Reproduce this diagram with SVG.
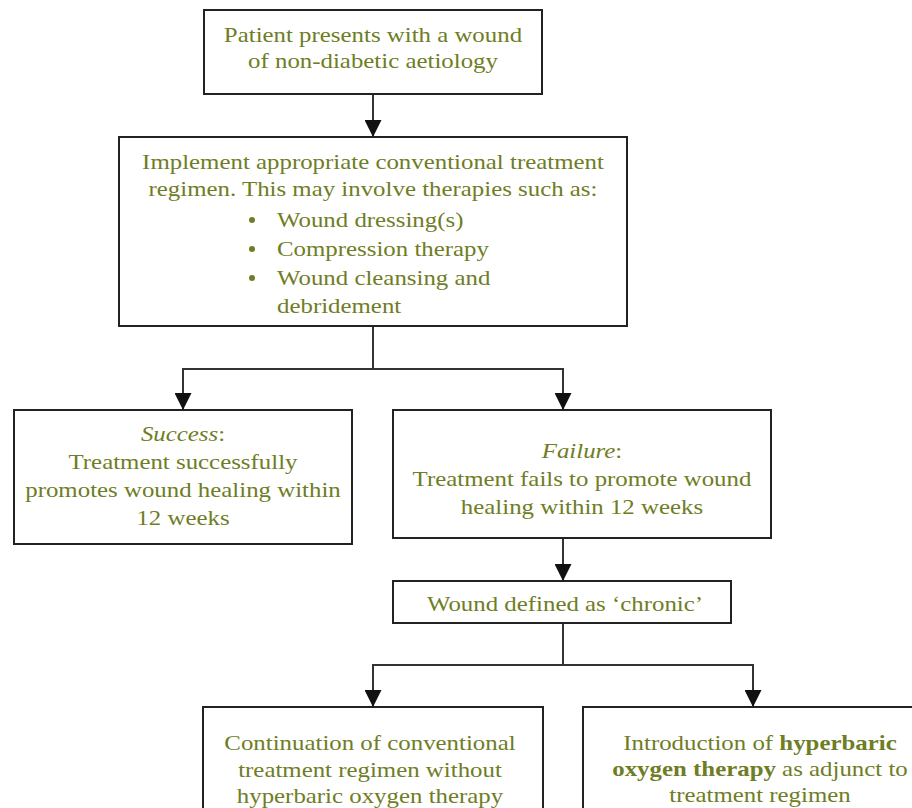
<svg xmlns="http://www.w3.org/2000/svg" width="912" height="808" viewBox="0 0 912 808">
<defs>
<style>
.box{fill:#ffffff;stroke:#222222;stroke-width:2}
.t{font-family:"Liberation Serif","Times New Roman",serif;font-size:22px;fill:#6f7d25}
.c{text-anchor:middle}
.i{font-style:italic}
.b{font-weight:bold}
.ln{fill:none;stroke:#333333;stroke-width:2}
.dot{fill:#6f7d25}
</style>
<marker id="ah" viewBox="0 0 10 10" refX="10" refY="5" markerWidth="17" markerHeight="17" markerUnits="userSpaceOnUse" orient="auto">
<path d="M0,0 L10,5 L0,10 Z" fill="#111111"/>
</marker>
</defs>
<rect width="912" height="808" fill="#ffffff"/>

<g id="connectors">
<line class="ln" x1="373" y1="94" x2="373" y2="137" marker-end="url(#ah)"/>
<polyline class="ln" points="373,326 373,369"/>
<polyline class="ln" points="183,410 183,369 563,369 563,410" marker-end="url(#ah)"/>
<line class="ln" x1="183" y1="369" x2="183" y2="410" marker-end="url(#ah)"/>
<line class="ln" x1="563" y1="538" x2="563" y2="581" marker-end="url(#ah)"/>
<polyline class="ln" points="563,623 563,665"/>
<polyline class="ln" points="373,707 373,665 753,665 753,707" marker-end="url(#ah)"/>
<line class="ln" x1="373" y1="665" x2="373" y2="707" marker-end="url(#ah)"/>
</g>

<g id="start">
<rect class="box" x="204" y="10" width="338" height="84"/>
<text class="t c" transform="matrix(1.13,0,0,1,-48.49,0)"><tspan x="373" y="42">Patient presents with a wound</tspan><tspan x="373" y="68">of non-diabetic aetiology</tspan></text>
</g>

<g id="treatment">
<rect class="box" x="119" y="137" width="508" height="189"/>
<text class="t c" transform="matrix(1.13,0,0,1,-48.49,0)"><tspan x="373" y="169">Implement appropriate conventional treatment</tspan><tspan x="373" y="196">regimen. This may involve therapies such as:</tspan></text>
<circle class="dot" cx="252" cy="220" r="3"/>
<circle class="dot" cx="252" cy="249" r="3"/>
<circle class="dot" cx="252" cy="278" r="3"/>
<text class="t" transform="matrix(1.13,0,0,1,-36.01,0)"><tspan x="277" y="227">Wound dressing(s)</tspan><tspan x="277" y="256">Compression therapy</tspan><tspan x="277" y="285">Wound cleansing and</tspan><tspan x="277" y="313">debridement</tspan></text>
</g>

<g id="success">
<rect class="box" x="14" y="410" width="338" height="134"/>
<text class="t c" transform="matrix(1.13,0,0,1,-23.79,0)"><tspan class="i" x="183" y="441">Success</tspan><tspan>:</tspan><tspan x="183" y="469">Treatment successfully</tspan><tspan x="183" y="497">promotes wound healing within</tspan><tspan x="183" y="525">12 weeks</tspan></text>
</g>

<g id="failure">
<rect class="box" x="393" y="410" width="378" height="128"/>
<text class="t c" transform="matrix(1.13,0,0,1,-75.66,0)"><tspan class="i" x="582" y="458">Failure</tspan><tspan>:</tspan><tspan x="582" y="486">Treatment fails to promote wound</tspan><tspan x="582" y="514">healing within 12 weeks</tspan></text>
</g>

<g id="chronic">
<rect class="box" x="393" y="581" width="338" height="42"/>
<text class="t c" transform="matrix(1.13,0,0,1,-73.45,0)" x="565" y="611">Wound defined as ‘chronic’</text>
</g>

<g id="continuation">
<rect class="box" x="203" y="707" width="340" height="130"/>
<text class="t c" transform="matrix(1.13,0,0,1,-48.1,0)"><tspan x="370" y="750">Continuation of conventional</tspan><tspan x="370" y="777">treatment regimen without</tspan><tspan x="370" y="803">hyperbaric oxygen therapy</tspan></text>
</g>

<g id="hbot">
<rect class="box" x="583" y="707" width="360" height="130"/>
<text class="t c" transform="matrix(1.13,0,0,1,-98.8,0)"><tspan x="760" y="750">Introduction of <tspan class="b">hyperbaric</tspan></tspan><tspan x="760" y="776"><tspan class="b">oxygen therapy</tspan> as adjunct to</tspan><tspan x="760" y="802">treatment regimen</tspan></text>
</g>
</svg>
